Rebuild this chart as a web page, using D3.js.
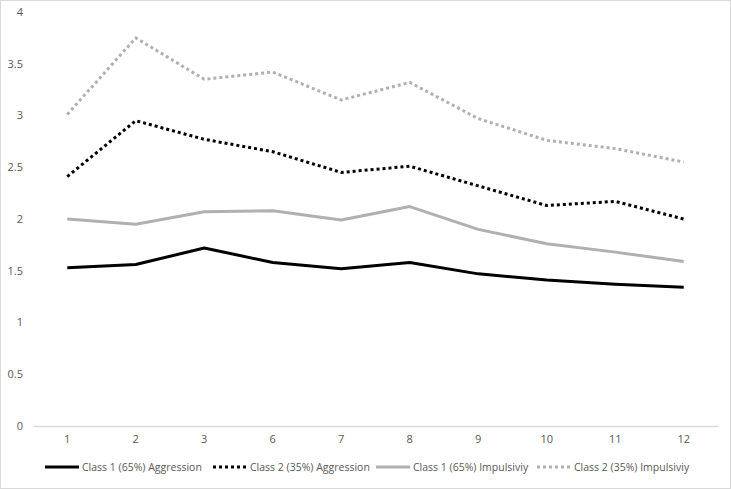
<!DOCTYPE html>
<html><head><meta charset="utf-8">
<script src="https://cdn.jsdelivr.net/npm/d3@7"></script>
<style>body{margin:0;background:#fff}svg{display:block}text{font-family:"Open Sans","Liberation Sans",sans-serif}</style>
</head><body>
<script>
const categories = ["1","2","3","6","7","8","9","10","11","12"];
const class1Aggression = [1.53,1.56,1.72,1.58,1.52,1.58,1.47,1.41,1.37,1.34];
const class2Aggression = [2.41,2.95,2.77,2.65,2.45,2.51,2.32,2.13,2.17,2.00];
const class1Impulsivity = [2.00,1.95,2.07,2.08,1.99,2.12,1.90,1.76,1.68,1.59];
const class2Impulsivity = [3.01,3.75,3.35,3.42,3.15,3.32,2.97,2.76,2.68,2.55];
const yTicks = [0,0.5,1,1.5,2,2.5,3,3.5,4];
const seriesNames = ["Class 1 (65%) Aggression","Class 2 (35%) Aggression","Class 1 (65%) Impulsiviy","Class 2 (35%) Impulsiviy"];

const W=731,H=489;
const svg=d3.select("body").append("svg").attr("width",W).attr("height",H);
svg.append("rect").attr("x",0.5).attr("y",0.5).attr("width",W-1).attr("height",H-1).attr("fill","#fff").attr("stroke","#d9d9d9");

const x=d3.scaleBand().domain(categories).range([33,718]);
const y=d3.scaleLinear().domain([0,4]).range([426,12]);

// y labels
svg.append("g").selectAll("text").data(yTicks).join("text")
  .attr("x",23).attr("y",d=>y(d)).attr("dy","0.35em").attr("text-anchor","end")
  .attr("font-size",11).attr("fill","#595959").text(d=>d);

// x axis
const xa=svg.append("g").attr("transform","translate(0,426)").call(d3.axisBottom(x).tickSize(0).tickPadding(9));
xa.select(".domain").attr("stroke","#d9d9d9").attr("stroke-width",1.3);
xa.selectAll("text").attr("font-size",11).attr("fill","#595959").attr("font-family","'Open Sans','Liberation Sans',sans-serif");

const styles=[
 {data:class1Aggression,color:"#000",dash:null},
 {data:class2Aggression,color:"#000",dash:"3,3"},
 {data:class1Impulsivity,color:"#b0b0b0",dash:null},
 {data:class2Impulsivity,color:"#b0b0b0",dash:"3,3"}
];
const line=d3.line().x((d,i)=>x(categories[i])+x.bandwidth()/2).y(d=>y(d));
styles.forEach(s=>{
  svg.append("path").attr("d",line(s.data)).attr("fill","none").attr("stroke",s.color)
   .attr("stroke-width",3).attr("stroke-dasharray",s.dash).attr("stroke-linejoin","round");
});

// legend
const legX=[45,213,376,537];
const lg=svg.append("g");
styles.forEach((s,i)=>{
  lg.append("line").attr("x1",legX[i]).attr("x2",legX[i]+34).attr("y1",467).attr("y2",467)
    .attr("stroke",s.color).attr("stroke-width",3).attr("stroke-dasharray",s.dash);
  lg.append("text").attr("x",legX[i]+37).attr("y",467).attr("dy","0.35em").attr("font-size",10.5)
    .attr("fill","#595959").text(seriesNames[i]);
});
</script>
</body></html>
